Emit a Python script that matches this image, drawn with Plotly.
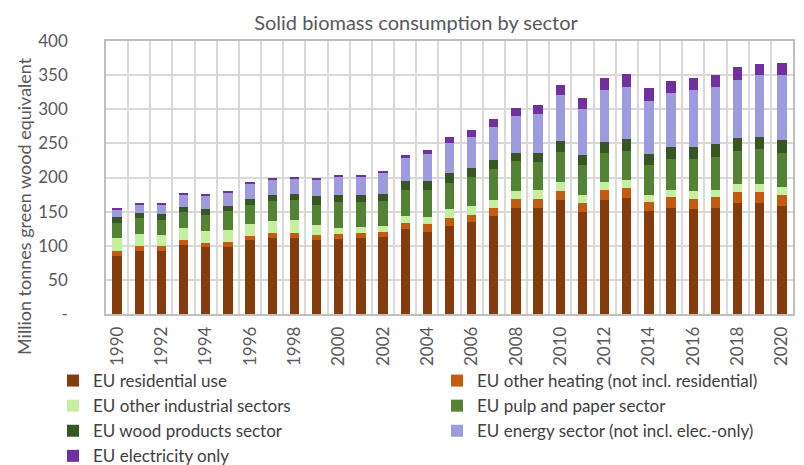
import plotly.graph_objects as go

years = list(range(1990, 2021))

residential = [85, 93, 92, 101.5, 97.5, 98.5, 109, 112, 112, 109, 110, 112, 113, 125, 120.5,
               129, 135, 143.5, 156, 156, 166.5, 149.5, 167.5, 170, 150.5, 155, 154, 155, 162, 162, 158]
other_heating = [7.5, 7, 7, 7.5, 7, 7.5, 6, 7, 7, 7, 7, 7, 7.5, 8.5, 11.5,
                 11.5, 9.5, 11.5, 12.5, 12.5, 14, 12.5, 14, 15, 13, 16, 14, 16, 17, 17, 16]
other_industrial = [19, 17, 17, 17, 17.5, 17, 17, 17.5, 19, 14.5, 8.5, 8.5, 8.5, 10, 10,
                    13, 13.5, 12.5, 11.5, 13, 13, 12.5, 12, 11.5, 11.5, 11, 12.5, 11, 11.5, 11.5, 12.5]
pulp_paper = [22, 23.5, 22, 23.5, 23.5, 28.5, 28, 29, 29, 29, 38, 36, 36.5, 37.5, 39,
              39, 43, 45, 43.5, 40.5, 44.5, 43.5, 42, 43, 43, 45.5, 46.5, 48.5, 48.5, 51, 50]
wood_products = [8.5, 7, 9, 7.5, 8, 7, 8.5, 9, 9.5, 14, 11, 11.5, 10.5, 14, 14,
                 14, 13, 13, 12.5, 14, 15.5, 15.5, 17, 17, 17, 17.5, 18, 18, 19.5, 18.5, 19]
energy_sector = [11.5, 13, 14, 17.5, 19.5, 19.5, 22, 23, 22, 23.5, 26.5, 27, 31, 33, 39,
                 43.5, 46, 48.5, 53.5, 57, 67.5, 66.5, 76, 76.5, 77.5, 79.5, 82.5, 84.5, 84.5, 90, 94]
electricity_only = [1.5, 1.5, 2, 1.5, 1.5, 1.5, 1.5, 1, 1, 1, 1.5, 1.5, 2.5, 5.5, 6.5,
                    9.5, 10, 11.5, 12, 13, 15, 16.5, 17.5, 19, 18.5, 17, 18, 17.5, 18.5, 17, 18]

# (name, values, colour, legend column)
series = [
    ("EU residential use", residential, "#843C0C", "legend"),
    ("EU other heating (not incl. residential)", other_heating, "#C55A11", "legend2"),
    ("EU other industrial sectors", other_industrial, "#C5EE9E", "legend"),
    ("EU pulp and paper sector", pulp_paper, "#548235", "legend2"),
    ("EU wood products sector", wood_products, "#375623", "legend"),
    ("EU energy sector (not incl. elec.-only)", energy_sector, "#9E9ADE", "legend2"),
    ("EU electricity only", electricity_only, "#7030A0", "legend"),
]

y_tickvals = [0, 50, 100, 150, 200, 250, 300, 350, 400]
y_ticktext = ["-", "50", "100", "150", "200", "250", "300", "350", "400"]
x_tickvals = years[::2]

FONT = "Lato"
GRAY = "#595959"

# page body has an 8px margin, so the figure is drawn 8px smaller and offset
W, H = 796, 457
L, R, T, B = 98, 11, 33, 151
PW, PH = W - L - R, H - T - B

fig = go.Figure()
for name, vals, col, leg in series:
    fig.add_trace(go.Bar(x=years, y=vals, name=name, legend=leg,
                         marker=dict(color=col, line=dict(width=0))))

legend_common = dict(
    orientation="v", xref="paper", xanchor="left",
    yref="container", y=1 - 355 / H, yanchor="top",
    traceorder="normal", font=dict(size=17, color="#404040", family=FONT),
    itemwidth=30, bgcolor="rgba(0,0,0,0)", borderwidth=0,
)

fig.update_layout(
    template="none",
    barmode="stack",
    bargap=0.58,
    width=W, height=H,
    paper_bgcolor="white", plot_bgcolor="white",
    margin=dict(l=L, r=R, t=T, b=B, pad=0),
    font=dict(family=FONT, color=GRAY, size=17),
    title=dict(text="Solid biomass consumption by sector", x=408 / W, xanchor="center",
               y=1 - 15 / H, yanchor="middle", font=dict(size=20, color=GRAY, family=FONT)),
    xaxis=dict(
        range=[1989.5, 2020.5], automargin=False,
        tickmode="array", tickvals=x_tickvals, ticktext=[str(v) for v in x_tickvals],
        tickangle=-90, showgrid=False, ticks="", ticklabelstandoff=4,
        tickfont=dict(size=17, color=GRAY),
        showline=True, linecolor="#BFBFBF", linewidth=1.5, mirror=True,
        minor=dict(tick0=0.5, dtick=1, showgrid=True, gridcolor="#D9D9D9", gridwidth=1.5, ticks=""),
        zeroline=False,
    ),
    yaxis=dict(
        range=[0, 400], automargin=False,
        tickmode="array", tickvals=y_tickvals, ticktext=y_ticktext,
        showgrid=True, gridcolor="#D9D9D9", gridwidth=1.5,
        tickfont=dict(size=17, color=GRAY), ticks="", ticklabelstandoff=33,
        showline=True, linecolor="#BFBFBF", linewidth=1.5, mirror=True,
        zeroline=False,
    ),
    legend=dict(x=(45 - L) / PW, **legend_common),
    legend2=dict(x=(429 - L) / PW, **legend_common),
    showlegend=True,
)

fig.add_annotation(
    text="Million tonnes green wood equivalent", textangle=-90,
    xref="paper", yref="paper", x=(16 - L) / PW, y=(H - B - 198) / PH,
    xanchor="center", yanchor="middle", showarrow=False,
    font=dict(size=18, color=GRAY, family=FONT),
)

fig.write_html("out.html")
